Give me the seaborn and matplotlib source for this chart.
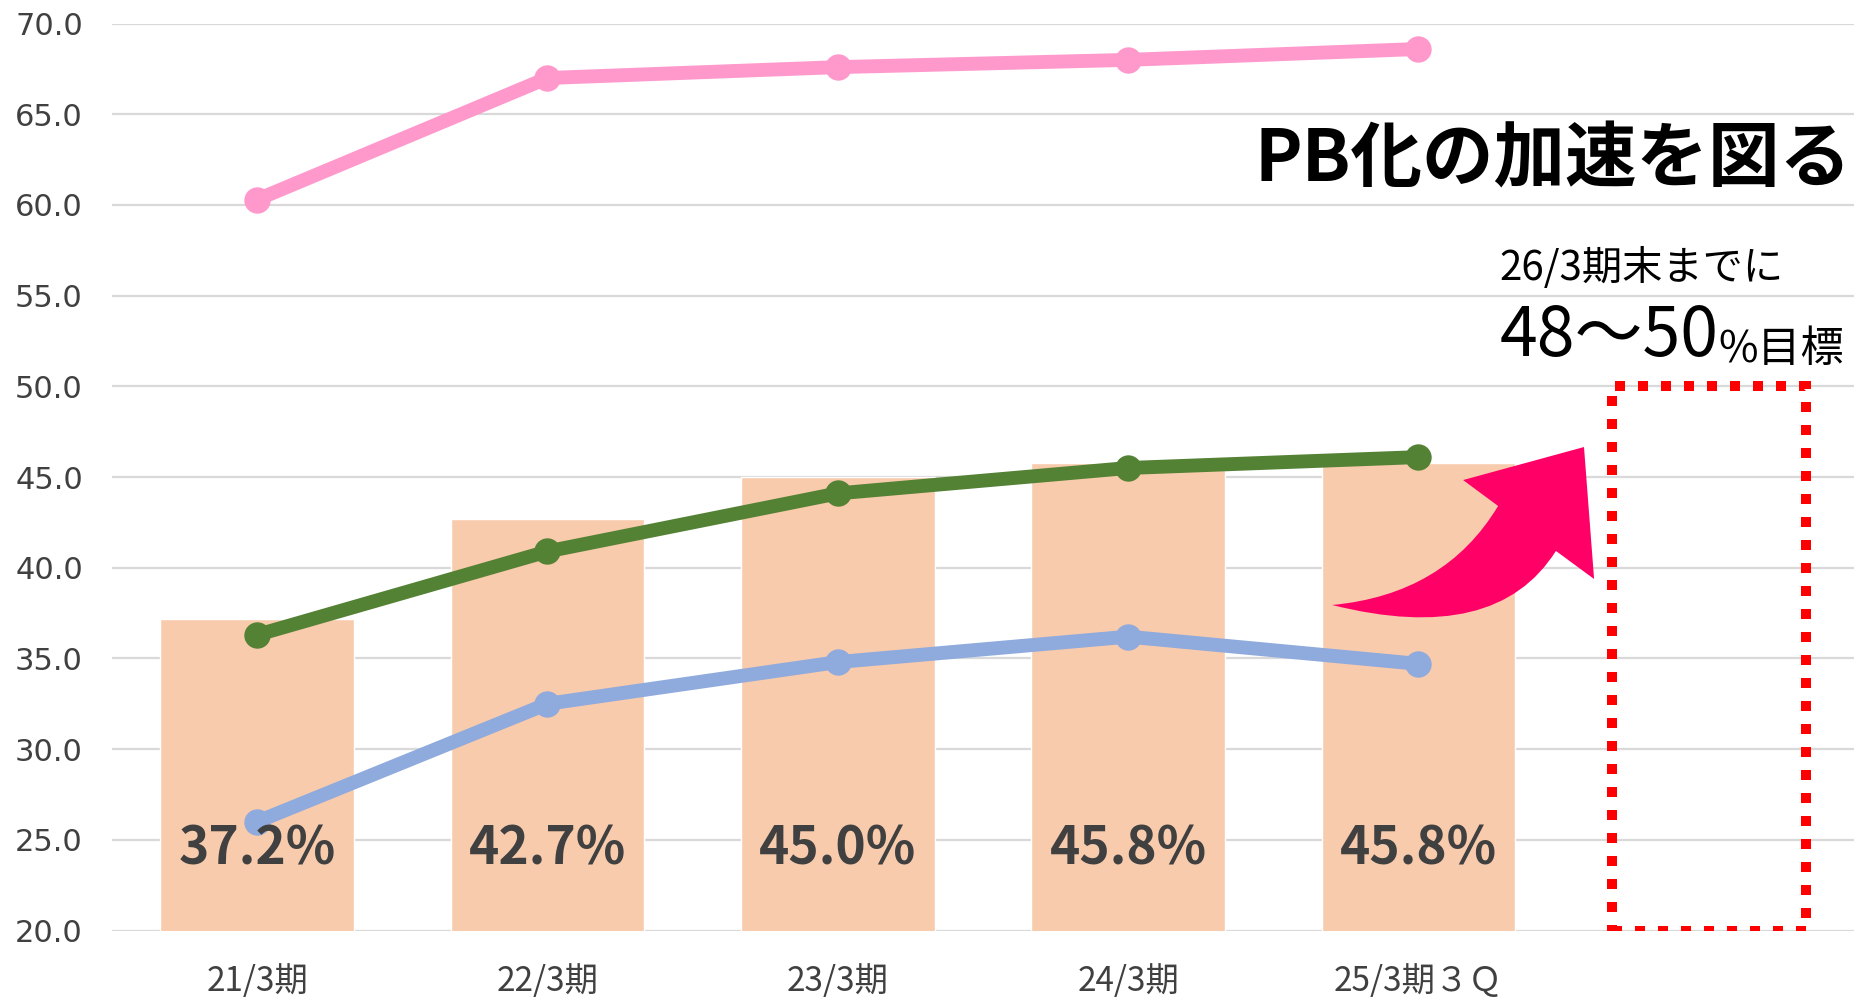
import numpy as np
import seaborn as sns
import matplotlib.pyplot as plt
from matplotlib.path import Path
from matplotlib.patches import PathPatch, Rectangle
from matplotlib.ticker import MultipleLocator, FormatStrFormatter

# DATA
periods = ['21/3期', '22/3期', '23/3期', '24/3期', '25/3期３Ｑ']
pb_ratio = [37.2, 42.7, 45.0, 45.8, 45.8]
pink_line = [60.3, 67.0, 67.6, 68.0, 68.6]
green_line = [36.3, 40.9, 44.1, 45.5, 46.1]
blue_line = [26.0, 32.5, 34.8, 36.2, 34.7]
target_slot = 5          # 26/3期 (empty slot)
target_top = 50.0

# STYLE
sns.set_theme(style="white")
plt.rcParams['font.family'] = ['Noto Sans CJK JP', 'DejaVu Sans']

fig = plt.figure(figsize=(18.54, 10), dpi=100)
ax = fig.add_axes([0.0604, 0.0695, 0.9396, 0.9069])

# BARS
sns.barplot(x=periods, y=pb_ratio, color='#F8CBAD', width=0.667,
            saturation=1, ax=ax, zorder=2)

# LINES
x_idx = np.arange(len(periods))
for vals, col in [(blue_line, '#8FAADC'), (green_line, '#548235'),
                  (pink_line, '#FF99CC')]:
    sns.lineplot(x=x_idx, y=vals, color=col, linewidth=10, marker='o',
                 markersize=19, markeredgewidth=0, ax=ax, zorder=3)

# BAR LABELS
for i, v in enumerate(pb_ratio):
    ax.text(i, 24.5, f'{v:.1f}%', ha='center', va='center', fontsize=37,
            fontweight='bold', color='#404040', zorder=5)

# AXES
ax.set_xlim(-0.5, 5.5)
ax.set_ylim(20, 70)
ax.yaxis.set_major_locator(MultipleLocator(5))
ax.yaxis.set_major_formatter(FormatStrFormatter('%.1f'))
ax.set_xticks(x_idx)
ax.set_xticklabels(periods)
ax.yaxis.grid(True, color='#d9d9d9', lw=1.6)
ax.set_axisbelow(True)
sns.despine(ax=ax, left=True, bottom=True)
ax.tick_params(axis='y', length=0, pad=21, labelsize=22, labelcolor='#404040')
ax.tick_params(axis='x', length=0, pad=24, labelsize=24, labelcolor='#404040')
for lab in ax.get_yticklabels():
    lab.set_fontfamily('DejaVu Sans')
ax.set_xlabel('')
ax.set_ylabel('')

# TARGET BOX
ax.add_patch(Rectangle((target_slot - 0.335, 20), 0.67, target_top - 20,
                       fill=False, ec='#FF0000', lw=7.2,
                       ls=(0, (1, 1.3)), zorder=4))

# ANNOTATIONS
ax.text(5.49, 62.46, 'PB化の加速を図る', ha='right', va='center',
        fontsize=51.5, fontweight='bold', color='black')
ax.text(4.28, 56.55, '26/3期末までに', ha='left', va='center',
        fontsize=29, color='black')
big = ax.text(4.28, 51.7, '48～50', ha='left', va='baseline',
              fontsize=49, color='black')
ax.annotate('%目標', xy=(1, 0), xycoords=big, ha='left', va='bottom',
            fontsize=31, color='black')

# CURVED ARROW (axes fraction)
verts = [(0.7004, 0.3589), (0.7652, 0.3705), (0.7957, 0.4681),
         (0.7756, 0.4967), (0.8450, 0.5331), (0.8508, 0.3876),
         (0.8289, 0.4185), (0.7945, 0.3137), (0.7004, 0.3589),
         (0.7004, 0.3589)]
codes = [Path.MOVETO, Path.CURVE3, Path.CURVE3, Path.LINETO, Path.LINETO,
         Path.LINETO, Path.LINETO, Path.CURVE3, Path.CURVE3, Path.CLOSEPOLY]
ax.add_patch(PathPatch(Path(verts, codes), transform=ax.transAxes,
                       fc='#FF0066', ec='none', zorder=6, clip_on=False))

fig.savefig('out.png', dpi=100)
